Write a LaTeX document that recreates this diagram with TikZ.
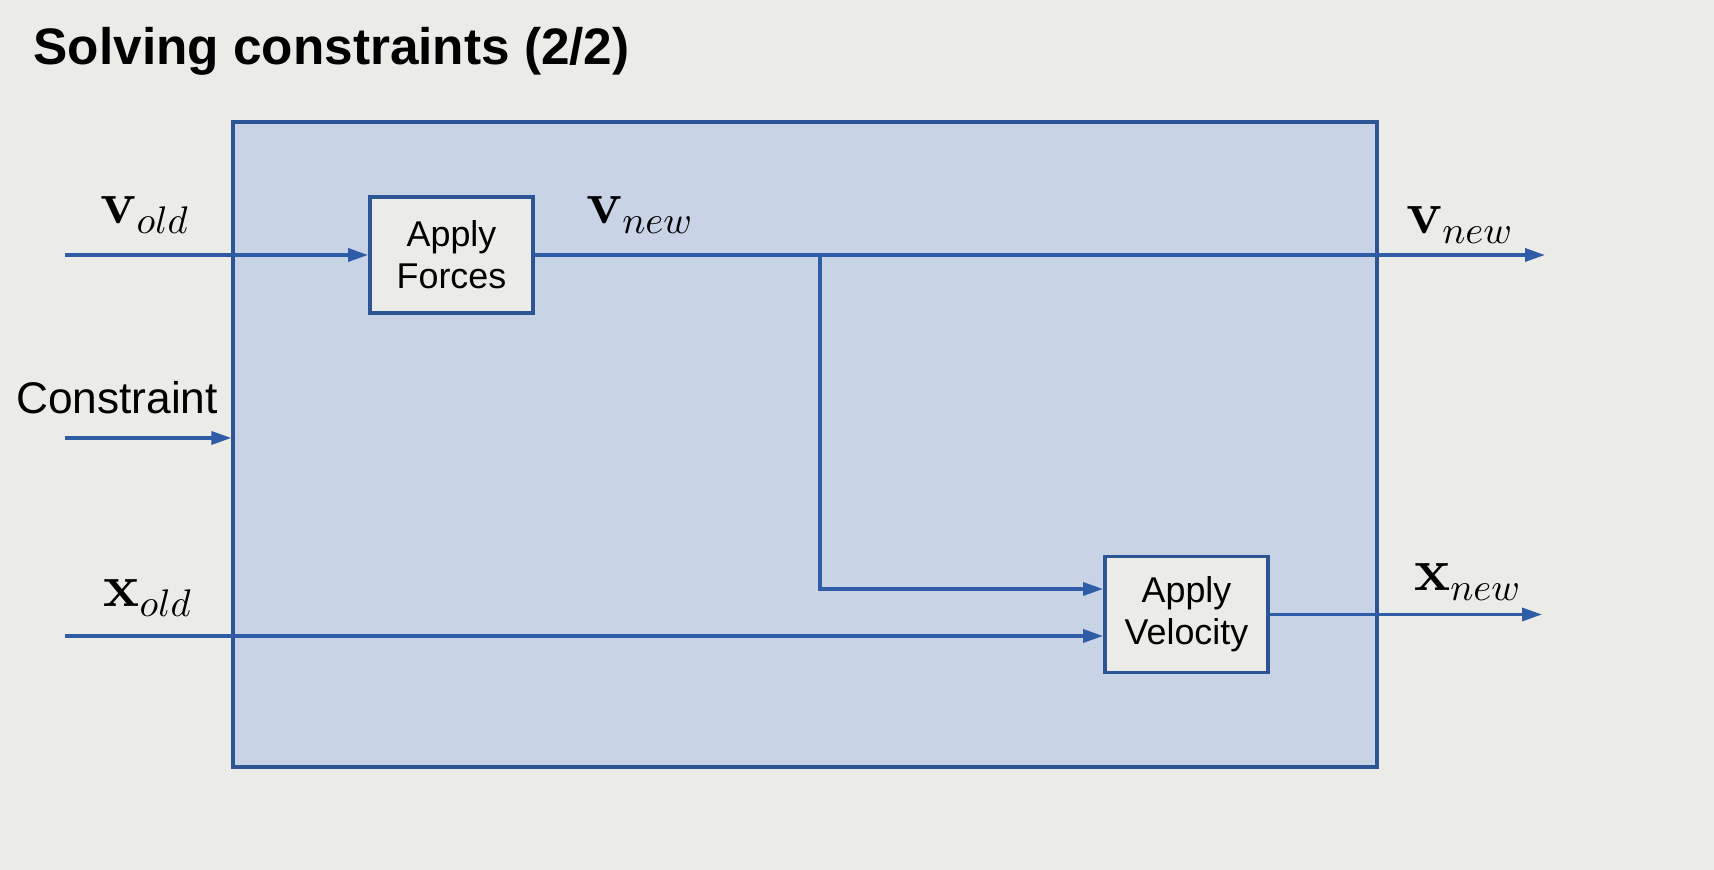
\documentclass[tikz,border=0pt]{standalone}
\usepackage[no-math]{fontspec}
\setmainfont{Liberation Sans}
\usetikzlibrary{arrows.meta}
\definecolor{slidebg}{HTML}{EBEBE7}
\definecolor{solverfill}{HTML}{C8D4E5}
\definecolor{edgeblue}{HTML}{2E5CA6}
\definecolor{boxblue}{HTML}{2D5596}
\begin{document}
\begin{tikzpicture}[every node/.style={inner sep=0pt},
	flow/.style={draw=edgeblue, line width=0.95pt, -{Triangle[length=0.2cm,width=0.13cm]}},
	applybox/.style={draw=boxblue, line width=1.1pt, fill=slidebg, minimum width=1.63cm, minimum height=1.16cm, align=center, font=\fontsize{10.2}{12}\selectfont},
	sig/.style={font=\fontsize{16}{19}\selectfont}]
	
	\useasboundingbox[fill=slidebg] (0,0) rectangle (17.14,8.70);
	\node[anchor=base west, font=\fontsize{14.6}{17}\selectfont\bfseries] (title) at (0.33,8.05) {Solving constraints (2/2)};
	
	\node[draw=boxblue, line width=0.9pt, fill=solverfill, minimum width=11.44cm, minimum height=6.45cm] (solver) at (8.05,4.255) {};
	\node[applybox] (forces) at (4.515,6.15) {Apply\\Forces};
	\node[applybox] (velocity) at (11.865,2.555) {Apply\\Velocity};
	
	\coordinate (vin) at (0.65,6.15);
	\coordinate (vout) at (15.45,6.15);
	\coordinate (split) at (8.20,6.15);
	\coordinate (turn) at (8.20,2.81);
	\coordinate (cin) at (0.65,4.32);
	\coordinate (xin) at (0.65,2.34);
	\coordinate (xout) at (15.42,2.555);
	
	\node[sig] (vold) at (1.45,6.55) {$\mathbf{v}_{old}$};
	\node[sig] (vnew) at (6.40,6.55) {$\mathbf{v}_{new}$};
	\node[sig] (vnewout) at (14.60,6.45) {$\mathbf{v}_{new}$};
	\node[font=\fontsize{12.6}{15}\selectfont] (constraint) at (1.17,4.72) {Constraint};
	\node[sig] (xold) at (1.48,2.72) {$\mathbf{x}_{old}$};
	\node[sig] (xnew) at (14.68,2.88) {$\mathbf{x}_{new}$};
	
	\draw[flow] (vin) -- (forces.west);
	\draw[flow] (forces.east) -- (vout);
	\draw[flow] (split) -- (turn) -- (turn -| velocity.west);
	\draw[flow] (cin) -- (cin -| solver.west);
	\draw[flow] (xin) -- (xin -| velocity.west);
	\draw[flow] (velocity.east) -- (xout);
	
\end{tikzpicture}
\end{document}
